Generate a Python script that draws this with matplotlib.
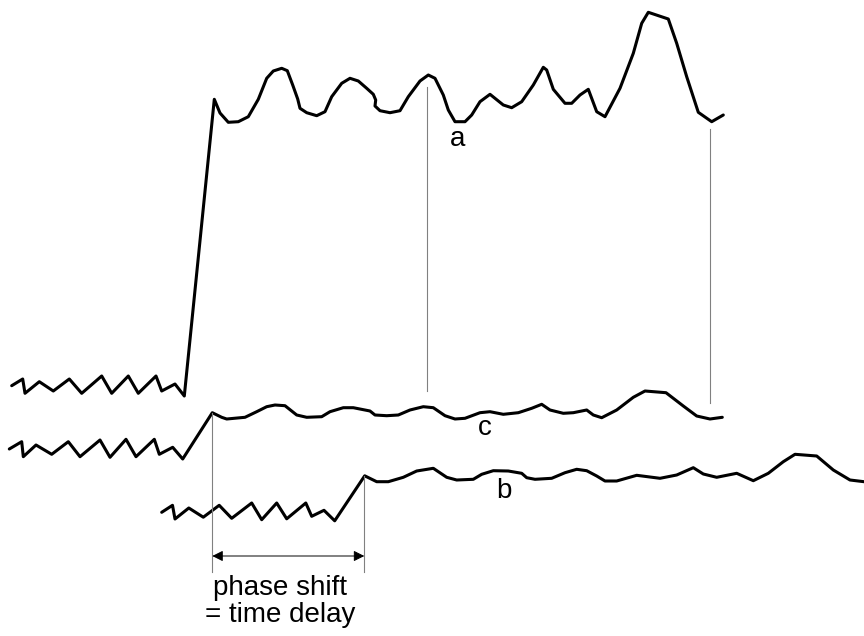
"""
Phase shift between traces a, b and c: same trace drawn three times,
c lines up with a, b arrives later by a fixed time delay.
"""
import matplotlib.pyplot as plt

# trace a (top), points in picture coords (x right, y down)
a_x = [11.7, 22.7, 25, 39.3, 53.3, 69.3, 81.7, 101.7, 111.7, 128.3, 138.3, 156, 161.7,
       175, 184.3, 214.3, 220, 228.3, 238.3, 248.3, 258.3, 266.7, 273.3, 281.7, 287.3,
       292.7, 297.7, 300, 306.7, 316.7, 325, 331.7, 341.7, 350, 358.3, 366.7, 373.3,
       375.7, 375, 380, 390, 400, 408.3, 420, 428.3, 435, 443.3, 448.3, 455, 465, 471.7,
       480, 490, 503.3, 511.7, 521.7, 533.3, 543.3, 546.7, 553.3, 565, 571.7, 580, 588.3,
       596.7, 605, 620, 633.3, 641.7, 648.3, 668.3, 676.7, 686.7, 698.3, 711.7, 723.3]
a_y = [385.7, 379, 393.3, 381.7, 391, 379, 393.3, 376, 393.3, 376, 393.3, 376, 391,
       384, 396, 99.3, 113, 122.3, 121.7, 116.7, 99.3, 78.3, 71, 68.3, 70.7,
       85, 99, 108.3, 112.7, 115.7, 111.7, 96.7, 83.3, 78.3, 81, 88.3, 94.3,
       100, 106, 110.7, 112.7, 110.7, 96.7, 81, 75, 78.3, 95, 110, 121.7, 121.7, 115,
       101.7, 94.3, 105, 107.7, 101.7, 85, 67.3, 70, 89.3, 103.3, 103.3, 95, 89.3,
       111.7, 116.7, 88.3, 53.3, 23.3, 12.3, 19, 43.3, 76.7, 112.3, 121.7, 115]

# trace c (middle)
c_x = [9.3, 21.7, 23.3, 36, 51.7, 68.3, 80, 100, 110, 126, 136, 154.3, 159.3, 172.7,
       182.7, 212.3, 221.7, 226.7, 245, 256.7, 266.7, 275, 285, 296.7, 306.7, 321.7,
       330, 343.3, 353.3, 370, 375, 386.7, 398.3, 410, 423.3, 433.3, 445, 455, 465,
       480, 490, 503.3, 518.3, 531.7, 541.7, 550, 563.3, 573.3, 586.7, 593.3, 601.7,
       616.7, 633.3, 645, 666, 683.3, 696.7, 710, 722.3]
c_y = [449, 441.7, 456.7, 445, 454.3, 441.7, 456.7, 440, 457.3, 439.3, 456.7, 439.3, 454.3,
       447.3, 459, 412.7, 417.3, 419, 417.3, 411.7, 406.7, 405, 405.7, 415, 417.3, 416.7,
       411.7, 407.7, 407.7, 411, 415, 415.7, 415, 410, 406.7, 407.7, 415.7, 419, 418.3,
       412.7, 411.7, 414.3, 412.7, 408.3, 404.3, 410, 413.3, 412.7, 410, 415, 417.7,
       410, 397.3, 391, 392.7, 406, 416, 419, 417.3]

# trace b (bottom, delayed)
b_x = [161.7, 172.5, 175, 188.8, 203.3, 219.2, 231.7, 251.7, 261.7, 276.7, 286.7, 305.8,
       311.7, 324, 334.7, 364.7, 376.7, 388.3, 403.3, 416.7, 433.3, 446.7, 456.7, 473.3,
       481.7, 493.3, 508.3, 521.7, 526.7, 535, 551.7, 565, 576.7, 586.7, 596.7, 605,
       616.7, 636.7, 660, 676.7, 693.3, 703.3, 716.7, 736.7, 753.3, 768.3, 783.3, 795,
       816.7, 833.3, 850, 864]
b_y = [512.3, 505.3, 519, 508, 517.2, 505.3, 518.3, 503, 519.7, 503, 518.8, 503,
       516.3, 510.3, 520.8, 475.8, 481.7, 481.7, 477.3, 471, 468.3, 477.3, 480, 479.3,
       474.3, 470.7, 471, 473.3, 477.7, 479.3, 478.3, 472.7, 469.3, 470.7, 476, 481,
       481, 475.3, 478.3, 475, 467.7, 474, 477.3, 473.3, 480.7, 473.3, 461.7, 454.3,
       456, 470, 480, 481.7]

# thin gray markers linking a to c, and the delay bracket
guide_x = [427.3, 710.3, 212.3, 364.3]
guide_top = [87, 129, 413, 476]
guide_bottom = [391, 403, 572, 572]
delay_start, delay_end, delay_y = 212.3, 364.3, 556

labels = ["a", "c", "b"]
label_x = [458, 485, 503.5]
label_y = [146, 435, 498]

fig = plt.figure(figsize=(8.64, 6.36), dpi=100)
ax = fig.add_axes([0, 0, 1, 1])
ax.set_xlim(0, 864)
ax.set_ylim(636, 0)
ax.axis("off")

for xs, ys in ((a_x, a_y), (c_x, c_y), (b_x, b_y)):
    ax.plot(xs, ys, color="black", lw=2.2, solid_joinstyle="round",
            solid_capstyle="round")

for x, y0, y1 in zip(guide_x, guide_top, guide_bottom):
    ax.plot([x, x], [y0, y1], color="#808080", lw=0.8)

ax.annotate("", xy=(delay_start, delay_y), xytext=(delay_end, delay_y),
            arrowprops=dict(arrowstyle="<|-|>", color="black", lw=0.7,
                            mutation_scale=16, shrinkA=0, shrinkB=0))

for t, x, y in zip(labels, label_x, label_y):
    ax.text(x, y, t, fontsize=20, family="Liberation Sans", ha="center",
            va="baseline")

ax.text(280, 595, "phase shift", fontsize=20, family="Liberation Sans",
        ha="center", va="baseline")
ax.text(280, 622, "= time delay", fontsize=20, family="Liberation Sans",
        ha="center", va="baseline")

fig.savefig("out.png", dpi=100)
